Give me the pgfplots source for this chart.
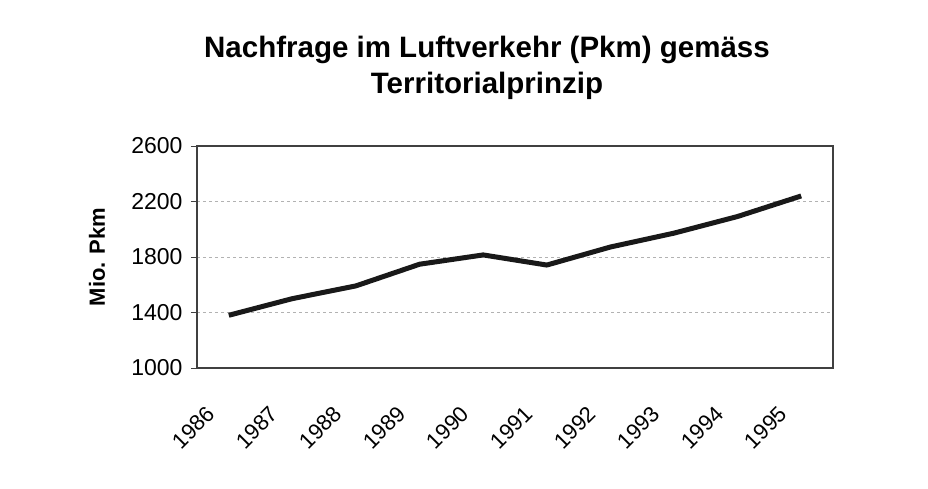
\documentclass[border=0pt]{standalone}
\usepackage{pgfplots}
\pgfplotsset{compat=1.18}
\usepackage{fontspec}
\setmainfont{Liberation Sans}
\begin{document}
\begin{tikzpicture}
\begin{axis}[
  name=ax,
  scale only axis,
  width=636pt, height=222pt,
  xmin=-0.5, xmax=9.5,
  ymin=1000, ymax=2600,
  ytick={1000,1400,1800,2200,2600},
  xtick={0,1,...,9},
  xticklabels={1986,1987,1988,1989,1990,1991,1992,1993,1994,1995},
  xtick style={draw=none},
  ytick pos=left,
  ytick style={draw=black!75, line width=1pt},
  tick align=outside,
  major tick length=6pt,
  axis line style={draw=black!75, line width=1.5pt},
  ymajorgrids,
  grid style={draw=black!30, dashed, line width=1pt},
  /pgf/number format/assume math mode=true,
  /pgf/number format/1000 sep={},
  yticklabel style={font=\fontsize{23}{26}\selectfont, xshift=-5pt},
  xticklabel style={font=\fontsize{22}{26}\selectfont, inner sep=0pt, anchor=east, xshift=-18pt, yshift=-36pt, rotate=45},
  clip=false,
]
\addplot[color=black!90, line width=5pt, line join=round, mark=none] coordinates {
(0,1380) (1,1500) (2,1592) (3,1748) (4,1815) (5,1742) (6,1872) (7,1972) (8,2092) (9,2240)
};
\end{axis}
\node[font=\fontsize{22}{26}\selectfont\bfseries, rotate=90] at ([xshift=-100pt]ax.west) {Mio. Pkm};
\node[font=\fontsize{29.5}{36}\selectfont\bfseries, align=center] at ([xshift=-28pt,yshift=78pt]ax.north) {Nachfrage im Luftverkehr (Pkm) gemäss\\Territorialprinzip};
\pgfresetboundingbox
\path[use as bounding box] ([xshift=-197pt,yshift=-120pt]ax.south west) rectangle ([xshift=95pt,yshift=146pt]ax.north east);
\end{tikzpicture}
\end{document}
